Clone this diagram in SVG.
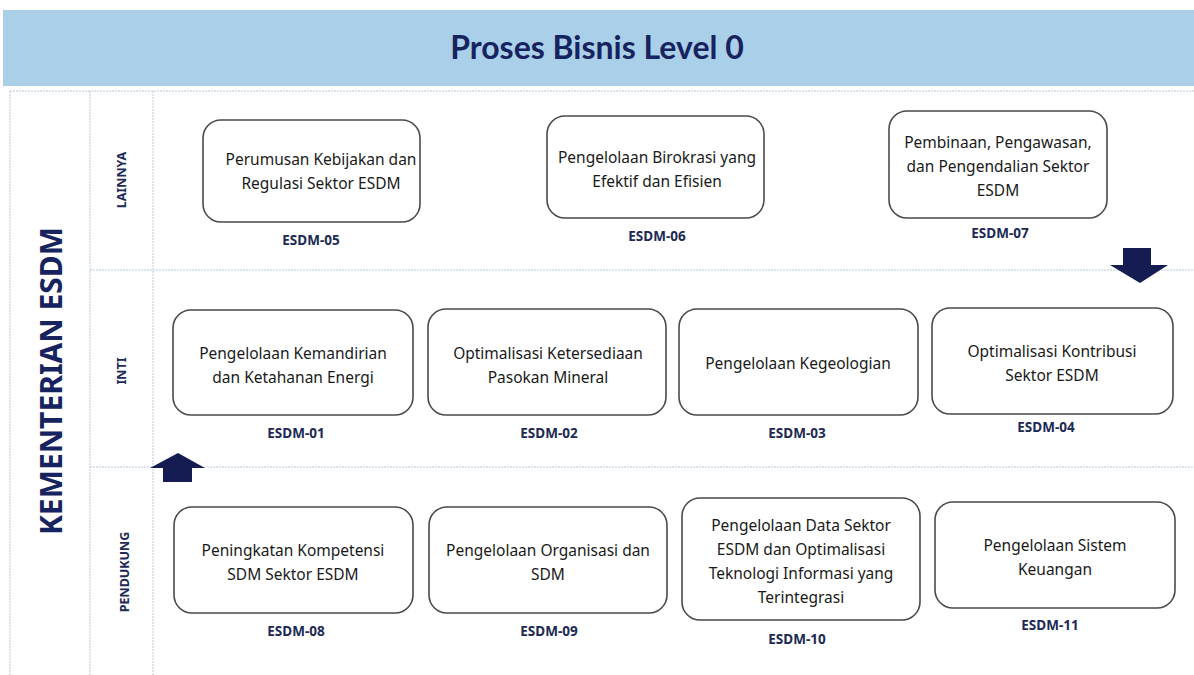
<svg xmlns="http://www.w3.org/2000/svg" width="1194" height="675" viewBox="0 0 1194 675">
  <style>
    .grid { stroke: #b9cbdb; stroke-width: 1; stroke-dasharray: 2 1; fill: none; }
    .box { fill: #ffffff; stroke: #4a4a4a; stroke-width: 1.6; }
    .txt { font-family: "Noto Sans", "Liberation Sans", sans-serif; font-size: 15.5px; fill: #1a1a1a; text-anchor: middle; }
    .code { font-family: "Noto Sans", "Liberation Sans", sans-serif; font-size: 13.5px; font-weight: bold; fill: #1c2a55; text-anchor: middle; }
    .lane { font-family: "Noto Sans", "Liberation Sans", sans-serif; font-size: 12.5px; font-weight: bold; fill: #1c2a55; text-anchor: middle; }
    .arrow { fill: #141c52; }
  </style>

  <rect width="1194" height="675" fill="#ffffff"/>

  <!-- header band -->
  <g id="header">
    <rect x="3" y="10" width="1191" height="76" fill="#a9d0e8"/>
    <text x="597" y="59" font-family="Lato, 'Liberation Sans', sans-serif" font-size="32" font-weight="bold" fill="#17235e" text-anchor="middle">Proses Bisnis Level 0</text>
  </g>

  <!-- swimlane grid -->
  <g id="grid">
    <line class="grid" x1="10" y1="91" x2="1194" y2="91"/>
    <line class="grid" x1="10" y1="91" x2="10" y2="675"/>
    <line class="grid" x1="90" y1="91" x2="90" y2="675"/>
    <line class="grid" x1="153" y1="91" x2="153" y2="675"/>
    <line class="grid" x1="90" y1="270" x2="1194" y2="270"/>
    <line class="grid" x1="90" y1="467" x2="1194" y2="467"/>
  </g>

  <!-- lane titles -->
  <g id="lanes">
    <text transform="translate(62,381) rotate(-90)" font-family="'Noto Sans', 'Liberation Sans', sans-serif" font-size="30" font-weight="bold" fill="#17235e" text-anchor="middle">KEMENTERIAN ESDM</text>
    <text class="lane" transform="translate(126,180) rotate(-90)">LAINNYA</text>
    <text class="lane" transform="translate(126,371) rotate(-90)">INTI</text>
    <text class="lane" transform="translate(129,572) rotate(-90)">PENDUKUNG</text>
  </g>

  <!-- LAINNYA row -->
  <g id="esdm-05">
    <rect class="box" x="203" y="120" width="217" height="102" rx="18"/>
    <text class="txt" x="321" y="165">Perumusan Kebijakan dan</text>
    <text class="txt" x="321" y="189">Regulasi Sektor ESDM</text>
    <text class="code" x="311" y="245">ESDM-05</text>
  </g>
  <g id="esdm-06">
    <rect class="box" x="547" y="116" width="217" height="102" rx="18"/>
    <text class="txt" x="657" y="163">Pengelolaan Birokrasi yang</text>
    <text class="txt" x="657" y="187">Efektif dan Efisien</text>
    <text class="code" x="657" y="241">ESDM-06</text>
  </g>
  <g id="esdm-07">
    <rect class="box" x="889" y="111" width="218" height="107" rx="18"/>
    <text class="txt" x="998" y="148">Pembinaan, Pengawasan,</text>
    <text class="txt" x="998" y="172">dan Pengendalian Sektor</text>
    <text class="txt" x="998" y="196">ESDM</text>
    <text class="code" x="1000" y="238">ESDM-07</text>
  </g>

  <!-- INTI row -->
  <g id="esdm-01">
    <rect class="box" x="173" y="310" width="240" height="105" rx="18"/>
    <text class="txt" x="293" y="359">Pengelolaan Kemandirian</text>
    <text class="txt" x="293" y="383">dan Ketahanan Energi</text>
    <text class="code" x="296" y="438">ESDM-01</text>
  </g>
  <g id="esdm-02">
    <rect class="box" x="428" y="309" width="238" height="106" rx="18"/>
    <text class="txt" x="548" y="359">Optimalisasi Ketersediaan</text>
    <text class="txt" x="548" y="383">Pasokan Mineral</text>
    <text class="code" x="549" y="438">ESDM-02</text>
  </g>
  <g id="esdm-03">
    <rect class="box" x="679" y="309" width="239" height="106" rx="18"/>
    <text class="txt" x="798" y="369">Pengelolaan Kegeologian</text>
    <text class="code" x="797" y="438">ESDM-03</text>
  </g>
  <g id="esdm-04">
    <rect class="box" x="932" y="308" width="241" height="106" rx="18"/>
    <text class="txt" x="1052" y="357">Optimalisasi Kontribusi</text>
    <text class="txt" x="1052" y="381">Sektor ESDM</text>
    <text class="code" x="1046" y="432">ESDM-04</text>
  </g>

  <!-- PENDUKUNG row -->
  <g id="esdm-08">
    <rect class="box" x="174" y="507" width="239" height="106" rx="18"/>
    <text class="txt" x="293" y="556">Peningkatan Kompetensi</text>
    <text class="txt" x="293" y="580">SDM Sektor ESDM</text>
    <text class="code" x="296" y="636">ESDM-08</text>
  </g>
  <g id="esdm-09">
    <rect class="box" x="429" y="507" width="238" height="106" rx="18"/>
    <text class="txt" x="548" y="556">Pengelolaan Organisasi dan</text>
    <text class="txt" x="548" y="580">SDM</text>
    <text class="code" x="549" y="636">ESDM-09</text>
  </g>
  <g id="esdm-10">
    <rect class="box" x="682" y="498" width="238" height="122" rx="18"/>
    <text class="txt" x="801" y="531">Pengelolaan Data Sektor</text>
    <text class="txt" x="801" y="555">ESDM dan Optimalisasi</text>
    <text class="txt" x="801" y="579">Teknologi Informasi yang</text>
    <text class="txt" x="801" y="603">Terintegrasi</text>
    <text class="code" x="797" y="644">ESDM-10</text>
  </g>
  <g id="esdm-11">
    <rect class="box" x="935" y="502" width="240" height="106" rx="18"/>
    <text class="txt" x="1055" y="551">Pengelolaan Sistem</text>
    <text class="txt" x="1055" y="575">Keuangan</text>
    <text class="code" x="1050" y="630">ESDM-11</text>
  </g>

  <!-- flow arrows between lanes -->
  <g id="connectors">
    <polygon class="arrow" points="178,453 205,468 192,468 192,482 163,482 163,468 150,468"/>
    <polygon class="arrow" points="1123,248 1151,248 1151,265 1168,265 1140,283 1110,265 1123,265"/>
  </g>
</svg>
